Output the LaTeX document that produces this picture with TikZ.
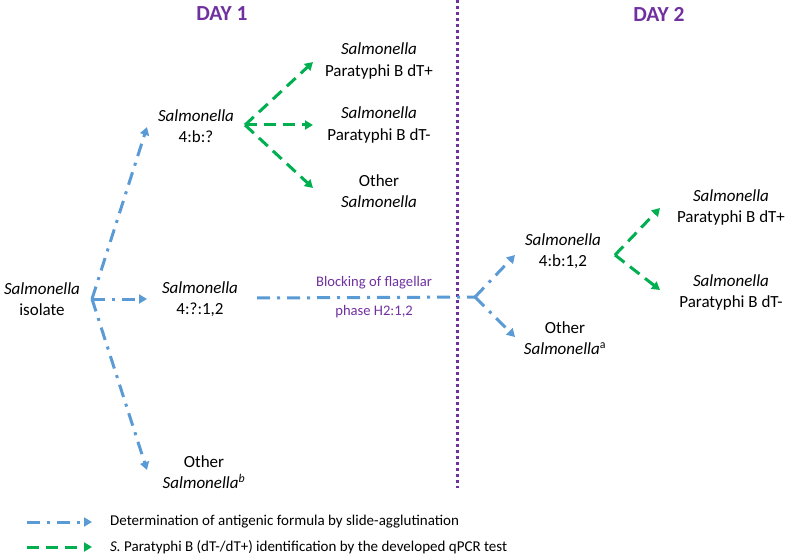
\documentclass[tikz,border=0pt]{standalone}
\usepackage{fontspec}
\setmainfont{Carlito}
\usetikzlibrary{arrows.meta}
\definecolor{blu}{HTML}{5B9BD5}
\definecolor{grn}{HTML}{00B050}
\definecolor{pur}{HTML}{7030A0}
\begin{document}
\begin{tikzpicture}[x=1pt,y=-1pt,
  lbl/.style={align=center, inner sep=0pt, font=\fontsize{17}{21.5}\selectfont},
  daylbl/.style={inner sep=0pt, text=pur, font=\fontsize{21.5}{24}\selectfont\bfseries},
  smalllbl/.style={inner sep=0pt, text=pur, font=\fontsize{14.6}{17}\selectfont},
  leglbl/.style={inner sep=0pt, anchor=west, font=\fontsize{15}{18}\selectfont},
  bluearrow/.style={draw=blu, line width=3pt, dash pattern=on 13pt off 7pt on 3pt off 7pt, -{Triangle[length=8pt,width=9pt,fill=blu]}},
  blueline/.style={draw=blu, line width=3pt, dash pattern=on 13pt off 7pt on 3pt off 7pt},
  greenarrow/.style={draw=grn, line width=3pt, dash pattern=on 12pt off 7pt, -{Triangle[length=8pt,width=9pt,fill=grn]}},
  divider/.style={draw=pur, line width=3pt, dash pattern=on 3pt off 3pt}
]
\useasboundingbox (0,0) rectangle (787,556);

% headings
\node[daylbl] (day1) at (222,14) {DAY 1};
\node[daylbl] (day2) at (659,14) {DAY 2};

% divider
\coordinate (dtop) at (457,0);
\coordinate (dbot) at (457,488);
\draw[divider] (dtop) -- (dbot);

% nodes
\node[lbl] (iso) at (42,299) {\textit{Salmonella}\\isolate};
\node[lbl] (s4b) at (196,126) {\textit{Salmonella}\\4:b:?};
\node[lbl] (s4q) at (200,299) {\textit{Salmonella}\\4:?:1,2};
\node[lbl] (othb) at (204,472) {Other\\\textit{Salmonella}\textsuperscript{\itshape b}};
\node[lbl] (dtp1) at (379,61) {\textit{Salmonella}\\Paratyphi B dT+};
\node[lbl] (dtm1) at (379,125) {\textit{Salmonella}\\Paratyphi B dT-};
\node[lbl] (oth1) at (379,191) {Other\\\textit{Salmonella}};
\node[lbl] (s4b12) at (563,251) {\textit{Salmonella}\\4:b:1,2};
\node[lbl] (otha) at (565,338) {Other\\\textit{Salmonella}\textsuperscript{a}};
\node[lbl] (dtp2) at (731,207.5) {\textit{Salmonella}\\Paratyphi B dT+};
\node[lbl] (dtm2) at (731,292.5) {\textit{Salmonella}\\Paratyphi B dT-};

% branch points and arrow ends
\coordinate (o1) at (92,299);
\coordinate (t1) at (147,127);
\coordinate (t2) at (147,299);
\coordinate (t3) at (147,470);
\coordinate (g1) at (245,125);
\coordinate (u1) at (313,62);
\coordinate (u2) at (313,125);
\coordinate (u3) at (313,188);
\coordinate (s4qr) at (257,298);
\coordinate (o2) at (475,297);
\coordinate (v1) at (515,255);
\coordinate (v2) at (515,337);
\coordinate (g2) at (615,255);
\coordinate (w1) at (660,208);
\coordinate (w2) at (660,290);

% blue connectors
\draw[bluearrow] (o1) -- (t1);
\draw[bluearrow] (o1) -- (t2);
\draw[bluearrow] (o1) -- (t3);
\draw[blueline] (s4qr) -- (o2)
  node[pos=0.537, above=7pt, smalllbl] (blk1) {Blocking of flagellar}
  node[pos=0.537, below=6pt, smalllbl] (blk2) {phase H2:1,2};
\draw[bluearrow] (o2) -- (v1);
\draw[bluearrow] (o2) -- (v2);

% green connectors
\draw[greenarrow] (g1) -- (u1);
\draw[greenarrow] (g1) -- (u2);
\draw[greenarrow] (g1) -- (u3);
\draw[greenarrow] (g2) -- (w1);
\draw[greenarrow] (g2) -- (w2);

% legend
\coordinate (lb1) at (27,522);
\coordinate (lb2) at (92,522);
\coordinate (lg1) at (27,547);
\coordinate (lg2) at (92,547);
\draw[bluearrow] (lb1) -- (lb2);
\draw[greenarrow] (lg1) -- (lg2);
\node[leglbl] (leg1) at (110,522) {Determination of antigenic formula by slide-agglutination};
\node[leglbl] (leg2) at (110,547) {\textit{S.} Paratyphi B (dT-/dT+) identification by the developed qPCR test};
\end{tikzpicture}
\end{document}
